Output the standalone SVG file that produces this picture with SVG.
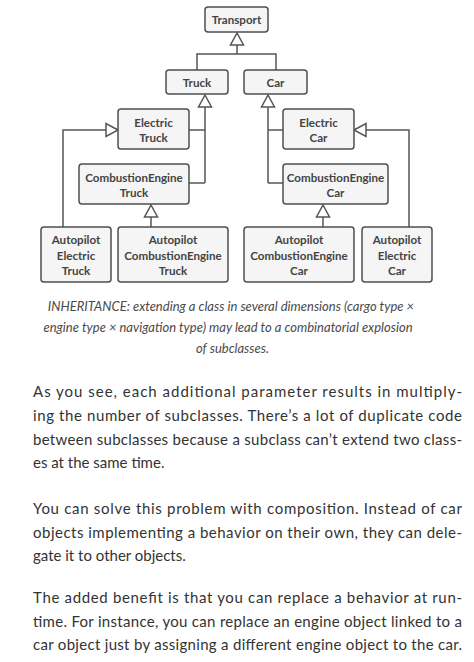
<svg xmlns="http://www.w3.org/2000/svg" width="474" height="662" viewBox="0 0 474 662">
<style>
.box{fill:#f5f5f5;stroke:#4f4f4f;stroke-width:1.5}
.lbl{font-family:Lato,"Open Sans",sans-serif;font-weight:bold;font-size:11.6px;fill:#444;text-anchor:middle}
.ln{fill:none;stroke:#555;stroke-width:1.5}
.tri{fill:#fff;stroke:#555;stroke-width:1.5;stroke-linejoin:miter}
.cap{font-family:Lato,"Open Sans",sans-serif;font-style:italic;font-size:13px;fill:#4a4a4a;text-anchor:middle}
.body{font-family:Lato,"Open Sans",sans-serif;font-size:15px;fill:#333}
</style>
<rect width="474" height="662" fill="#fff"/>
<g id="connectors">
<path class="ln" d="M237 45V54M197 70V54H276V70"/>
<path class="ln" d="M205 107V183M189 130H205M189 183H205"/>
<path class="ln" d="M268 107V183M268 130H283M268 183H283"/>
<path class="ln" d="M106 130H63V227"/>
<path class="ln" d="M366 130H409V227"/>
<path class="ln" d="M151 217V227"/>
<path class="ln" d="M323 217V227"/>
<polygon class="tri" points="237,33 243.5,45 230.5,45"/>
<polygon class="tri" points="205,95 211.5,107 198.5,107"/>
<polygon class="tri" points="268,95 274.5,107 261.5,107"/>
<polygon class="tri" points="118,130 106,123.5 106,136.5"/>
<polygon class="tri" points="354,130 366,123.5 366,136.5"/>
<polygon class="tri" points="151,205 157.5,217 144.5,217"/>
<polygon class="tri" points="323,205 329.5,217 316.5,217"/>
</g>
<g id="transport"><rect class="box" x="205" y="7" width="63" height="25" rx="3"/><text class="lbl" x="236.5" y="24">Transport</text></g>
<g id="truck"><rect class="box" x="166" y="70" width="62" height="24" rx="3"/><text class="lbl" x="197" y="86.5">Truck</text></g>
<g id="car"><rect class="box" x="244" y="70" width="63" height="24" rx="3"/><text class="lbl" x="275.5" y="86.5">Car</text></g>
<g id="electric-truck"><rect class="box" x="118" y="109" width="71" height="40" rx="3"/><text class="lbl" x="153.5" y="127">Electric</text><text class="lbl" x="153.5" y="142">Truck</text></g>
<g id="electric-car"><rect class="box" x="283" y="109" width="71" height="40" rx="3"/><text class="lbl" x="318.5" y="127">Electric</text><text class="lbl" x="318.5" y="142">Car</text></g>
<g id="combustion-truck"><rect class="box" x="79" y="164" width="110" height="40" rx="3"/><text class="lbl" x="134" y="182">CombustionEngine</text><text class="lbl" x="134" y="197">Truck</text></g>
<g id="combustion-car"><rect class="box" x="283" y="164" width="105" height="40" rx="3"/><text class="lbl" x="335.5" y="182">CombustionEngine</text><text class="lbl" x="335.5" y="197">Car</text></g>
<g id="autopilot-electric-truck"><rect class="box" x="41" y="227" width="70" height="55" rx="3"/><text class="lbl" x="76" y="244">Autopilot</text><text class="lbl" x="76" y="259.5">Electric</text><text class="lbl" x="76" y="275">Truck</text></g>
<g id="autopilot-combustion-truck"><rect class="box" x="118" y="227" width="110" height="55" rx="3"/><text class="lbl" x="173" y="244">Autopilot</text><text class="lbl" x="173" y="259.5">CombustionEngine</text><text class="lbl" x="173" y="275">Truck</text></g>
<g id="autopilot-combustion-car"><rect class="box" x="244" y="227" width="110" height="55" rx="3"/><text class="lbl" x="299" y="244">Autopilot</text><text class="lbl" x="299" y="259.5">CombustionEngine</text><text class="lbl" x="299" y="275">Car</text></g>
<g id="autopilot-electric-car"><rect class="box" x="362" y="227" width="70" height="55" rx="3"/><text class="lbl" x="397" y="244">Autopilot</text><text class="lbl" x="397" y="259.5">Electric</text><text class="lbl" x="397" y="275">Car</text></g>
<g id="caption">
<text class="cap" x="231" y="311">INHERITANCE: extending a class in several dimensions (cargo type ×</text>
<text class="cap" x="228" y="332">engine type × navigation type) may lead to a combinatorial explosion</text>
<text class="cap" x="232.5" y="353">of subclasses.</text>
</g>
<g id="text">
<text class="body" x="33" y="397" textLength="429" lengthAdjust="spacing">As you see, each additional parameter results in multiply-</text>
<text class="body" x="33" y="421" textLength="429" lengthAdjust="spacing">ing the number of subclasses. There’s a lot of duplicate code</text>
<text class="body" x="33" y="445" textLength="429" lengthAdjust="spacing">between subclasses because a subclass can’t extend two class-</text>
<text class="body" x="33" y="468">es at the same time.</text>
<text class="body" x="33" y="514" textLength="429" lengthAdjust="spacing">You can solve this problem with composition. Instead of car</text>
<text class="body" x="33" y="538" textLength="429" lengthAdjust="spacing">objects implementing a behavior on their own, they can dele-</text>
<text class="body" x="33" y="561">gate it to other objects.</text>
<text class="body" x="33" y="603" textLength="429" lengthAdjust="spacing">The added benefit is that you can replace a behavior at run-</text>
<text class="body" x="33" y="626.5" textLength="429" lengthAdjust="spacing">time. For instance, you can replace an engine object linked to a</text>
<text class="body" x="33" y="650" textLength="429" lengthAdjust="spacing">car object just by assigning a different engine object to the car.</text>
</g>
</svg>
